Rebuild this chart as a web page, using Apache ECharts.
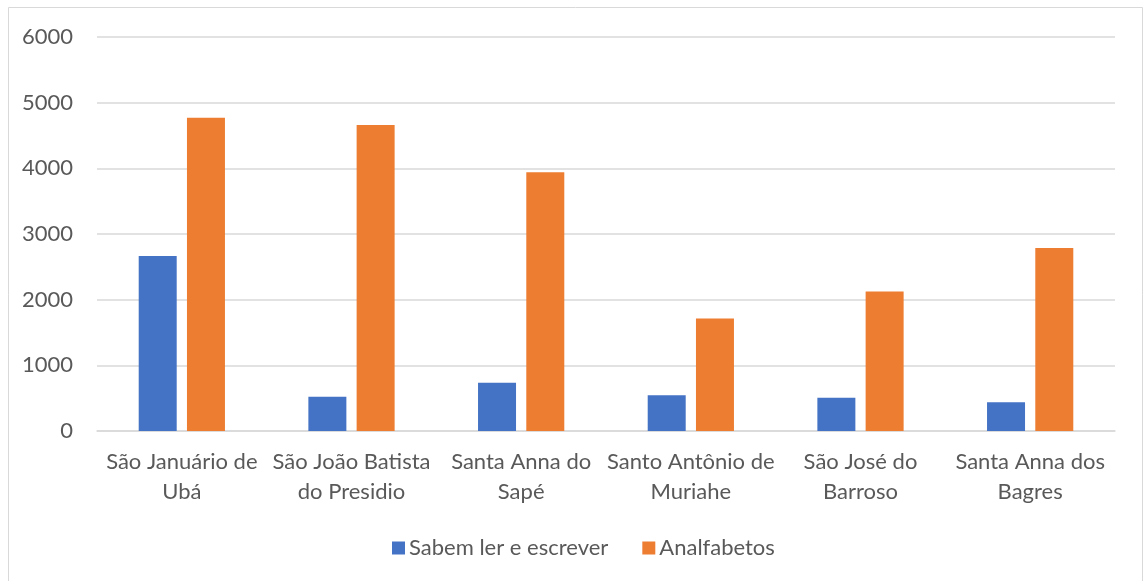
<!DOCTYPE html>
<html>
<head>
<meta charset="utf-8">
<script src="https://cdn.jsdelivr.net/npm/echarts@6/dist/echarts.min.js"></script>
<style>
  html, body { margin: 0; padding: 0; background: #fff; }
  #chart { width: 1144px; height: 581px; }
</style>
</head>
<body>
<div id="chart"></div>
<script>
const categories = [
  'São Januário de\nUbá',
  'São João Batista\ndo Presidio',
  'Santa Anna do\nSapé',
  'Santo Antônio de\nMuriahe',
  'São José do\nBarroso',
  'Santa Anna dos\nBagres'
]
const sabem = [2664, 522, 735, 543, 507, 436]
const analfabetos = [4769, 4658, 3942, 1715, 2126, 2785]
const yTicks = { min: 0, max: 6000, interval: 1000 }

const font = 'Lato, "Open Sans", sans-serif'
const textColor = '#595959'
const lineColor = '#D9D9D9'

const chart = echarts.init(document.getElementById('chart'), null, { renderer: 'canvas' })

chart.setOption({
  animation: false,
  textStyle: { fontFamily: font },
  graphic: [
    {
      type: 'rect',
      shape: { x: 8.5, y: 7.5, width: 1134, height: 580 },
      style: { fill: 'none', stroke: lineColor, lineWidth: 1 },
      silent: true
    }
  ],
  grid: { left: 97, right: 29, top: 37, bottom: 150 },
  legend: {
    data: ['Sabem ler e escrever', 'Analfabetos'],
    left: 387,
    top: 532,
    itemWidth: 13,
    itemHeight: 13,
    itemGap: 34,
    icon: 'rect',
    textStyle: { color: textColor, fontSize: 22, fontFamily: font, padding: [0, 0, 0, -1] }
  },
  xAxis: {
    type: 'category',
    data: categories,
    axisLine: { show: true, lineStyle: { color: lineColor, width: 1.5 } },
    axisTick: { show: false },
    axisLabel: {
      interval: 0,
      color: textColor,
      fontSize: 22,
      lineHeight: 30,
      margin: 16,
      fontFamily: font
    }
  },
  yAxis: {
    type: 'value',
    min: yTicks.min,
    max: yTicks.max,
    interval: yTicks.interval,
    axisLine: { show: false },
    axisTick: { show: false },
    splitLine: { lineStyle: { color: lineColor, width: 1.5 } },
    axisLabel: {
      color: textColor,
      fontSize: 22,
      margin: 24,
      fontFamily: font,
      formatter: (v) => String(v)
    }
  },
  series: [
    {
      name: 'Sabem ler e escrever',
      type: 'bar',
      data: sabem,
      barWidth: 38,
      barGap: '27%',
      itemStyle: { color: '#4472C4' }
    },
    {
      name: 'Analfabetos',
      type: 'bar',
      data: analfabetos,
      barWidth: 38,
      itemStyle: { color: '#ED7D31' }
    }
  ]
})

window.addEventListener('resize', () => chart.resize())
</script>
</body>
</html>
